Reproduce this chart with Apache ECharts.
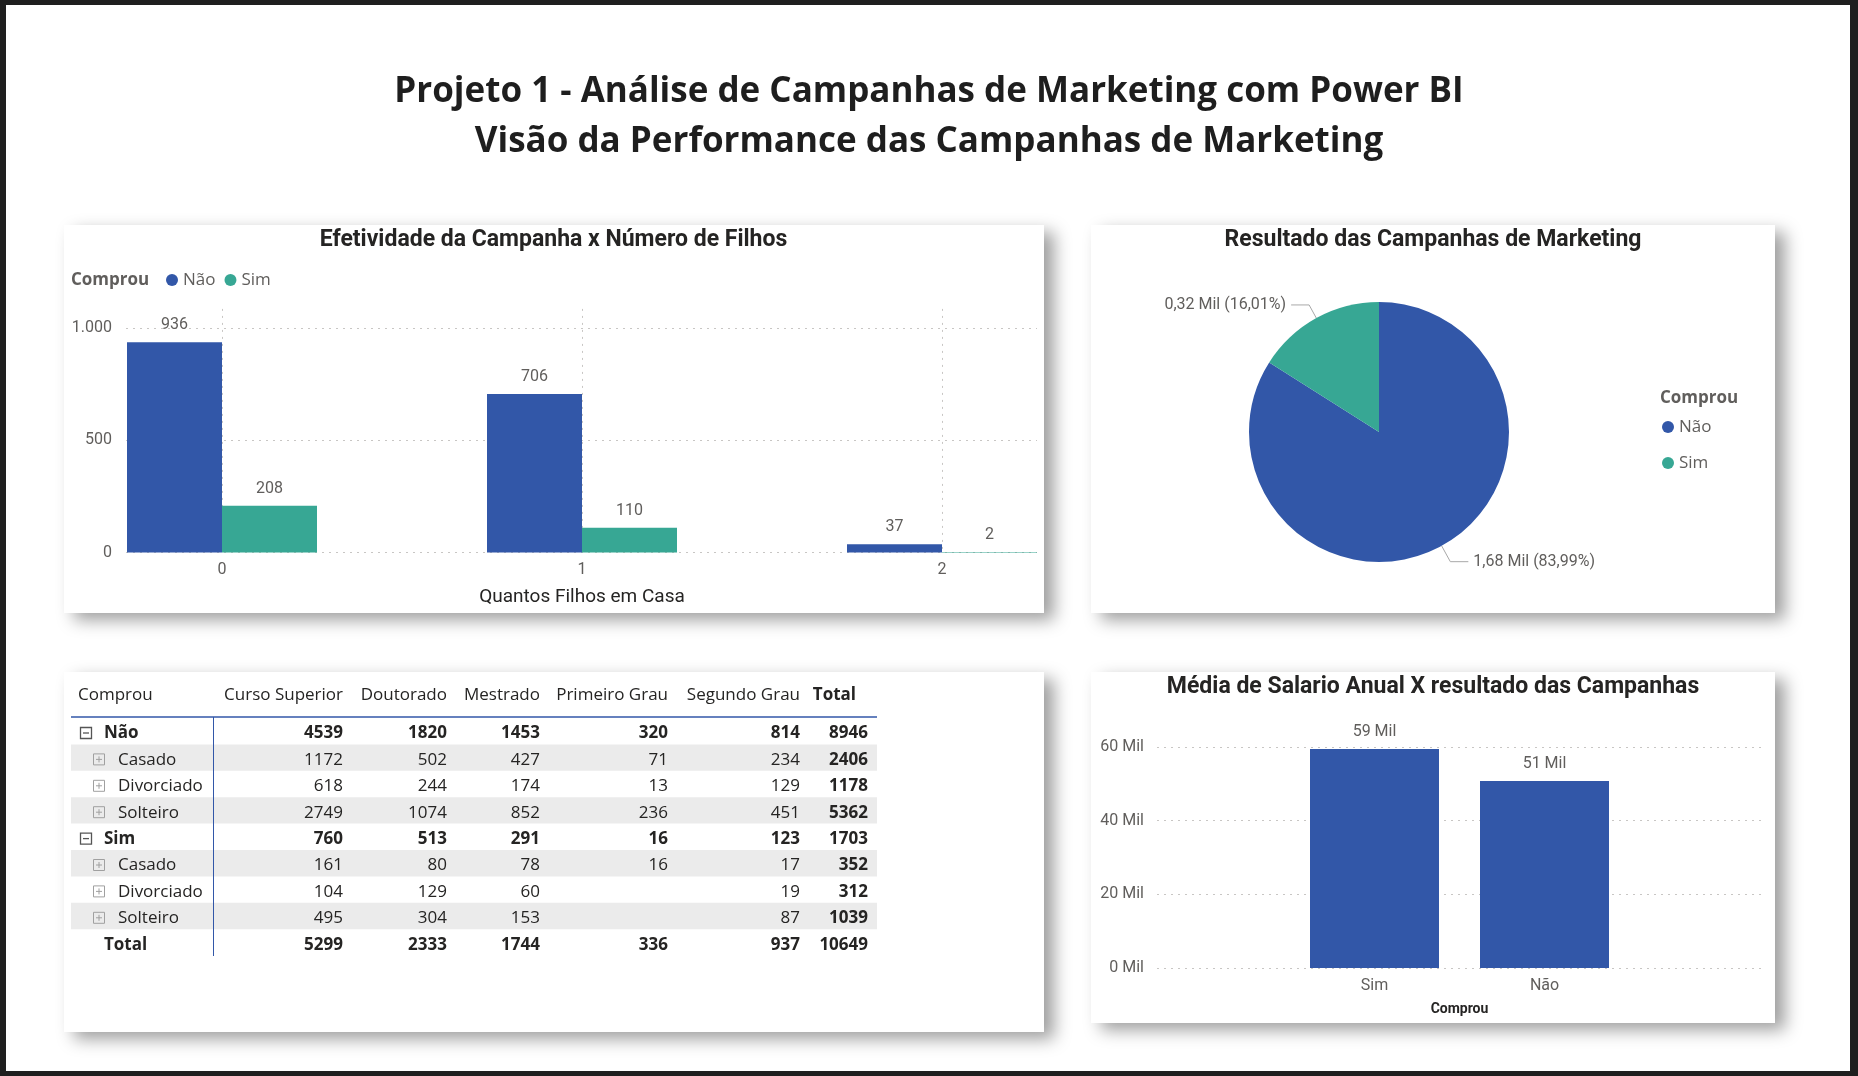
<!DOCTYPE html>
<html>
<head>
<meta charset="utf-8">
<script src="https://cdn.jsdelivr.net/npm/echarts@6/dist/echarts.min.js"></script>
<style>
html,body{margin:0;padding:0;background:#1f1f1f;overflow:hidden;}
#c{width:1858px;height:1076px;}
</style>
</head>
<body>
<div id="c"></div>
<script>
// ---------------- data ----------------
const mainTitle = ['Projeto 1 - Análise de Campanhas de Marketing com Power BI', 'Visão da Performance das Campanhas de Marketing'];
const chartTitles = ['Efetividade da Campanha x Número de Filhos', 'Resultado das Campanhas de Marketing', 'Média de Salario Anual X resultado das Campanhas'];
const legendTitle = 'Comprou';
const seriesNames = ['Não', 'Sim'];

const childCategories = ['0', '1', '2'];
const childNao = [936, 706, 37];
const childSim = [208, 110, 2];
const childTicks = [0, 500, 1000];
const childAxisName = 'Quantos Filhos em Casa';

const pieNames = ['Não', 'Sim'];
const pieValues = [1679, 320];

const salaryCategories = ['Sim', 'Não'];
const salaryValues = [59450, 50800];
const salaryTicks = [0, 20000, 40000, 60000];
const salaryAxisName = 'Comprou';

const tableCorner = 'Comprou';
const tableColumns = ['Curso Superior', 'Doutorado', 'Mestrado', 'Primeiro Grau', 'Segundo Grau', 'Total'];
const tableRowLabels = ['Não', 'Casado', 'Divorciado', 'Solteiro', 'Sim', 'Casado', 'Divorciado', 'Solteiro', 'Total'];
const tableRowLevels = ['group', 'child', 'child', 'child', 'group', 'child', 'child', 'child', 'total'];
const rowNao = [4539, 1820, 1453, 320, 814, 8946];
const rowNaoCasado = [1172, 502, 427, 71, 234, 2406];
const rowNaoDivorciado = [618, 244, 174, 13, 129, 1178];
const rowNaoSolteiro = [2749, 1074, 852, 236, 451, 5362];
const rowSim = [760, 513, 291, 16, 123, 1703];
const rowSimCasado = [161, 80, 78, 16, 17, 352];
const rowSimDivorciado = [104, 129, 60, null, 19, 312];
const rowSimSolteiro = [495, 304, 153, null, 87, 1039];
const rowTotal = [5299, 2333, 1744, 336, 937, 10649];
const tableValues = [rowNao, rowNaoCasado, rowNaoDivorciado, rowNaoSolteiro, rowSim, rowSimCasado, rowSimDivorciado, rowSimSolteiro, rowTotal];

// ---------------- style ----------------
const BLUE = '#3257A8', GREEN = '#37A794', AX = '#605E5C', TT = '#252423';
const ROBOTO = 'Roboto, "DejaVu Sans", sans-serif';
const OPEN = '"Open Sans", "Noto Sans", sans-serif';
const GRIDLINE = {show: true, lineStyle: {color: '#c8c6c4', width: 1, type: [2, 5]}};
const ptFmt = v => String(v).replace(/\B(?=(\d{3})+(?!\d))/g, '.');

// layout
const c1Base = 552.5, c1k = 0.2245, c1BarMax = 1085;
const s1Top = 747, s1Base = 968;
const pieLeaderLengths = [18, 15];

const cards = [
  {x: 64, y: 225, w: 980, h: 388},
  {x: 1091, y: 225, w: 684, h: 388},
  {x: 64, y: 672, w: 980, h: 360},
  {x: 1091, y: 672, w: 684, h: 351}
];

const graphics = [];
graphics.push({type: 'rect', z: -30, shape: {x: 6, y: 5, width: 1844, height: 1066}, style: {fill: '#ffffff'}, silent: true});
cards.forEach(c => graphics.push({
  type: 'rect', z: -20, silent: true,
  shape: {x: c.x, y: c.y, width: c.w, height: c.h},
  style: {fill: '#ffffff', shadowBlur: 16, shadowOffsetX: 10, shadowOffsetY: 7, shadowColor: 'rgba(0,0,0,0.38)'}
}));

function txt(x, y, text, opts) {
  const o = Object.assign({size: 17, weight: 'normal', family: OPEN, color: TT, align: 'left'}, opts || {});
  return {
    type: 'text', z: 10, x: x, y: y, silent: true,
    style: {
      text: text, fill: o.color, fontSize: o.size, fontWeight: o.weight, fontFamily: o.family,
      align: o.align, verticalAlign: 'middle', textAlign: o.align, textVerticalAlign: 'middle'
    }
  };
}

// legend titles
graphics.push(txt(71, 280, legendTitle, {weight: 'bold', color: AX}));
graphics.push(txt(1660, 398, legendTitle, {weight: 'bold', color: AX}));

// table
const colRight = [343, 447, 540, 668, 800, 868];
const tLeft = 71, tRight = 877, headY = 695, lineY = 717, rowTop0 = 718, rowH = 26.4;
graphics.push(txt(78, headY, tableCorner));
tableColumns.forEach((h, j) => {
  const isTotal = j === tableColumns.length - 1;
  graphics.push(txt(isTotal ? 856 : colRight[j], headY, h, {align: 'right', weight: isTotal ? 'bold' : 'normal'}));
});
graphics.push({type: 'line', z: 8, silent: true, shape: {x1: tLeft, y1: lineY, x2: tRight, y2: lineY}, style: {stroke: BLUE, lineWidth: 1.5}});
tableRowLabels.forEach((lab, i) => {
  const top = rowTop0 + i * rowH;
  const cy = top + 15.5;
  const lvl = tableRowLevels[i];
  if (i % 2 === 1) {
    graphics.push({type: 'rect', z: -5, silent: true, shape: {x: tLeft, y: top, width: tRight - tLeft, height: rowH}, style: {fill: '#ebebeb'}});
  }
  const bold = lvl !== 'child';
  if (lvl === 'group') {
    graphics.push({type: 'rect', z: 8, silent: true, shape: {x: 80.5, y: cy - 6, width: 11, height: 11}, style: {fill: 'none', stroke: '#555', lineWidth: 1.3}});
    graphics.push({type: 'line', z: 8, silent: true, shape: {x1: 83, y1: cy - 0.5, x2: 89, y2: cy - 0.5}, style: {stroke: '#555', lineWidth: 1.3}});
    graphics.push(txt(104, cy, lab, {weight: 'bold'}));
  } else if (lvl === 'child') {
    graphics.push({type: 'rect', z: 8, silent: true, shape: {x: 93.5, y: cy - 6, width: 11, height: 11}, style: {fill: 'none', stroke: '#a0a0a0', lineWidth: 1}});
    graphics.push({type: 'line', z: 8, silent: true, shape: {x1: 96, y1: cy - 0.5, x2: 102, y2: cy - 0.5}, style: {stroke: '#a0a0a0', lineWidth: 1}});
    graphics.push({type: 'line', z: 8, silent: true, shape: {x1: 99, y1: cy - 3.5, x2: 99, y2: cy + 2.5}, style: {stroke: '#a0a0a0', lineWidth: 1}});
    graphics.push(txt(118, cy, lab));
  } else {
    graphics.push(txt(104, cy, lab, {weight: 'bold'}));
  }
  tableValues[i].forEach((v, j) => {
    if (v === null) return;
    const isTotalCol = j === tableColumns.length - 1;
    graphics.push(txt(colRight[j], cy, String(v), {align: 'right', weight: (bold || isTotalCol) ? 'bold' : 'normal'}));
  });
});
graphics.push({type: 'line', z: 8, silent: true, shape: {x1: 213.5, y1: lineY, x2: 213.5, y2: 956}, style: {stroke: BLUE, lineWidth: 1}});

// ---------------- chart ----------------
const chart = echarts.init(document.getElementById('c'));
const subTitle = (text, cx, top) => ({
  text: text, left: cx, top: top, padding: 0, textAlign: 'center', textVerticalAlign: 'top',
  textStyle: {fontFamily: ROBOTO, fontWeight: 'bold', fontSize: 23, color: TT, lineHeight: 26}
});
const option = {
  animation: false,
  backgroundColor: 'transparent',
  title: [
    {text: mainTitle.join('\n'), left: 929, top: 67, padding: 0, textAlign: 'center', textVerticalAlign: 'top',
     textStyle: {fontFamily: '"Open Sans", "Noto Sans", sans-serif', fontWeight: 'bold', fontSize: 35, color: '#1e1e1e', lineHeight: 50}},
    subTitle(chartTitles[0], 553.5, 227),
    subTitle(chartTitles[1], 1433, 227),
    subTitle(chartTitles[2], 1433, 674)
  ],
  legend: [
    {data: seriesNames, left: 166, top: 270, orient: 'horizontal', icon: 'circle', itemWidth: 12, itemHeight: 12, itemGap: 9, padding: 0,
     textStyle: {color: AX, fontSize: 17, fontFamily: OPEN, lineHeight: 20}},
    {data: pieNames, left: 1662, top: 417, orient: 'vertical', icon: 'circle', itemWidth: 12, itemHeight: 12, itemGap: 16, padding: 0,
     textStyle: {color: AX, fontSize: 17, fontFamily: OPEN, lineHeight: 20}}
  ],
  grid: [
    {left: 126, top: c1Base - childTicks[childTicks.length - 1] * c1k, width: 911, height: childTicks[childTicks.length - 1] * c1k},
    {left: 222, top: c1Base - c1BarMax * c1k, width: 720, height: c1BarMax * c1k},
    {left: 1157, top: s1Top, width: 607, height: s1Base - s1Top},
    {left: 1289.5, top: s1Top, width: 340, height: s1Base - s1Top}
  ],
  xAxis: [
    {gridIndex: 0, type: 'value', show: false},
    {gridIndex: 1, type: 'category', data: childCategories, boundaryGap: false,
     axisLine: {show: false}, axisTick: {show: false},
     axisLabel: {color: AX, fontSize: 16, fontFamily: ROBOTO, margin: 9},
     splitLine: GRIDLINE,
     name: childAxisName, nameLocation: 'middle', nameGap: 35,
     nameTextStyle: {color: TT, fontSize: 19, fontFamily: ROBOTO}},
    {gridIndex: 2, type: 'value', show: false},
    {gridIndex: 3, type: 'category', data: salaryCategories,
     axisLine: {show: false}, axisTick: {show: false},
     axisLabel: {color: AX, fontSize: 16, fontFamily: ROBOTO, margin: 10},
     name: salaryAxisName, nameLocation: 'middle', nameGap: 34,
     nameTextStyle: {color: TT, fontSize: 14, fontWeight: 'bold', fontFamily: ROBOTO}}
  ],
  yAxis: [
    {gridIndex: 0, type: 'value', min: childTicks[0], max: childTicks[childTicks.length - 1], interval: childTicks[1] - childTicks[0],
     axisLine: {show: false}, axisTick: {show: false},
     axisLabel: {color: AX, fontSize: 16, fontFamily: ROBOTO, margin: 14, formatter: v => ptFmt(v)},
     splitLine: GRIDLINE},
    {gridIndex: 1, type: 'value', min: 0, max: c1BarMax, show: false},
    {gridIndex: 2, type: 'value', min: salaryTicks[0], max: salaryTicks[salaryTicks.length - 1], interval: salaryTicks[1] - salaryTicks[0],
     axisLine: {show: false}, axisTick: {show: false},
     axisLabel: {color: AX, fontSize: 16, fontFamily: ROBOTO, margin: 13, formatter: v => (v / 1000) + ' Mil'},
     splitLine: GRIDLINE},
    {gridIndex: 3, type: 'value', min: salaryTicks[0], max: salaryTicks[salaryTicks.length - 1], show: false}
  ],
  series: [
    {type: 'bar', name: seriesNames[0], xAxisIndex: 1, yAxisIndex: 1, data: childNao, barWidth: 95, barGap: '0%', clip: false,
     itemStyle: {color: BLUE}, emphasis: {disabled: true},
     label: {show: true, position: 'top', distance: 9, color: AX, fontSize: 16, fontFamily: ROBOTO}},
    {type: 'bar', name: seriesNames[1], xAxisIndex: 1, yAxisIndex: 1, data: childSim, barWidth: 95, barGap: '0%', clip: false,
     itemStyle: {color: GREEN}, emphasis: {disabled: true},
     label: {show: true, position: 'top', distance: 9, color: AX, fontSize: 16, fontFamily: ROBOTO}},
    {type: 'pie', name: legendTitle, center: [1379, 432], radius: 130, startAngle: 90, clockwise: true, percentPrecision: 2,
     data: pieNames.map((n, i) => ({name: n, value: pieValues[i], itemStyle: {color: i === 0 ? BLUE : GREEN},
       labelLine: {length: pieLeaderLengths[i]}})),
     itemStyle: {borderWidth: 0}, emphasis: {disabled: true},
     label: {show: true, position: 'outside', color: AX, fontSize: 16, fontFamily: ROBOTO,
       formatter: p => (p.value / 1000).toFixed(2).replace('.', ',') + ' Mil (' + p.percent.toFixed(2).replace('.', ',') + '%)'},
     labelLine: {show: true, length: 15, length2: 18, lineStyle: {color: '#a8a8a8', width: 1}}},
    {type: 'bar', name: 'Média de Salario Anual', xAxisIndex: 3, yAxisIndex: 3, data: salaryValues, barWidth: 129,
     itemStyle: {color: BLUE}, emphasis: {disabled: true},
     label: {show: true, position: 'top', distance: 9, color: AX, fontSize: 16, fontFamily: ROBOTO,
       formatter: p => Math.round(p.value / 1000) + ' Mil'}}
  ],
  graphic: {elements: graphics}
};
chart.setOption(option);
</script>
</body>
</html>
